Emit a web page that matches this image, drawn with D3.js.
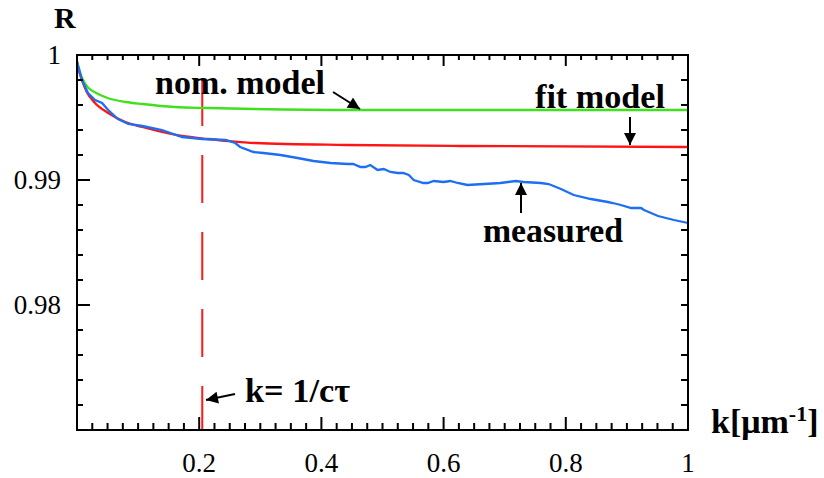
<!DOCTYPE html>
<html>
<head>
<meta charset="utf-8">
<script src="https://cdn.jsdelivr.net/npm/d3@7"></script>
<style>
  body { margin: 0; background: #fff; }
</style>
</head>
<body>
<svg class="graphic"></svg>
<script>
// nominal model (green)
var nomK = [0, 0.008, 0.018, 0.03, 0.05, 0.08, 0.107, 0.16, 0.215, 0.29, 0.46, 1.0];
var nomR = [0.9995, 0.9982, 0.9974, 0.9970, 0.99656, 0.99624, 0.99608, 0.99584, 0.99576, 0.99568, 0.9956, 0.9956];

// fit model (red)
var fitK = [0, 0.0016, 0.008, 0.016, 0.0295, 0.051, 0.079, 0.107, 0.139, 0.172, 0.215, 0.248, 0.292, 0.44, 0.628, 1.0];
var fitR = [0.99944, 0.99904, 0.998, 0.99704, 0.99616, 0.99536, 0.99464, 0.99424, 0.99384, 0.99352, 0.99328, 0.99312, 0.99296, 0.9928, 0.99272, 0.99264];

// measured (blue)
var measK = [0, 0.008, 0.018, 0.0295, 0.041, 0.051, 0.067, 0.084, 0.107, 0.139, 0.172, 0.205, 0.243, 0.259, 0.267,
    0.289, 0.305, 0.333, 0.361, 0.387, 0.415, 0.443, 0.452, 0.464, 0.472, 0.48, 0.492, 0.502, 0.513, 0.525,
    0.534, 0.543, 0.551, 0.567, 0.574, 0.584, 0.6, 0.611, 0.623, 0.639, 0.666, 0.693, 0.718, 0.731, 0.759,
    0.772, 0.792, 0.813, 0.841, 0.869, 0.877, 0.89, 0.907, 0.923, 0.928, 0.951, 0.977, 1.0];
var measR = [0.99944, 0.998, 0.99696, 0.9964, 0.99616, 0.9956, 0.99488, 0.99448, 0.99432, 0.994, 0.99344, 0.99328, 0.9932, 0.99296, 0.99264,
    0.99224, 0.99216, 0.992, 0.99176, 0.99152, 0.99136, 0.99128, 0.99128, 0.99104, 0.99104, 0.9912, 0.9908, 0.99088, 0.99064, 0.99056,
    0.99056, 0.9904, 0.99, 0.98976, 0.98976, 0.98992, 0.98984, 0.98992, 0.98976, 0.9896, 0.98968, 0.98976, 0.98992, 0.98984, 0.98976,
    0.98968, 0.98928, 0.9888, 0.98848, 0.98824, 0.98816, 0.988, 0.98776, 0.98776, 0.9876, 0.98712, 0.9868, 0.98656];

var cutoffK = 0.205; // k = 1/c tau

var xMajor = [0.2, 0.4, 0.6, 0.8, 1];
var xLabels = ["0.2", "0.4", "0.6", "0.8", "1"];
var yMajor = [1, 0.99, 0.98];
var yLabels = ["1", "0.99", "0.98"];

var serif = "'Liberation Serif', 'Times New Roman', serif";
var width = 824, height = 478;
var plotLeft = 77, plotRight = 688, plotTop = 55, plotBottom = 430;

var svg = d3.select(".graphic").attr("width", width).attr("height", height);

var x = d3.scaleLinear().domain([0, 1]).range([plotLeft, plotRight]);
var y = d3.scaleLinear().domain([0.97, 1]).range([plotBottom, plotTop]);

// arrow head
svg.append("defs").append("marker")
    .attr("id", "head")
    .attr("viewBox", "0 0 10 10")
    .attr("refX", 10).attr("refY", 5)
    .attr("markerWidth", 7).attr("markerHeight", 6)
    .attr("markerUnits", "strokeWidth")
    .attr("orient", "auto")
    .append("path")
    .attr("d", "M0,0 L10,5 L0,10 Z")
    .attr("fill", "#000");

// cutoff line
svg.append("line")
    .attr("x1", x(cutoffK)).attr("x2", x(cutoffK))
    .attr("y1", 78).attr("y2", plotBottom)
    .attr("stroke", "#ff1a1a")
    .attr("stroke-width", 2)
    .attr("stroke-dasharray", "48,29");

// curves
function curve(ks, rs, colour, shape) {
    var pts = ks.map(function(k, i) { return [k, rs[i]]; });
    svg.append("path")
        .attr("d", d3.line()
            .x(function(d) { return x(d[0]); })
            .y(function(d) { return y(d[1]); })
            .curve(shape)(pts))
        .attr("fill", "none")
        .attr("stroke", colour)
        .attr("stroke-width", 2.3);
}
curve(nomK, nomR, "#3fe01c", d3.curveMonotoneX);
curve(fitK, fitR, "#ff1414", d3.curveMonotoneX);
curve(measK, measR, "#1c6ef2", d3.curveLinear);

// axes
var frame = svg.append("g");
frame.append("rect")
    .attr("x", plotLeft).attr("y", plotTop)
    .attr("width", plotRight - plotLeft).attr("height", plotBottom - plotTop)
    .attr("fill", "none").attr("stroke", "#000").attr("stroke-width", 2);

var xTicks = d3.range(1, 40).map(function(i) { return i * 0.025; });
var yTicks = d3.range(1, 15).map(function(i) { return 0.97 + i * 0.002; });
function isMajor(v, list) { return list.some(function(m) { return Math.abs(m - v) < 1e-6; }); }

xTicks.forEach(function(v) {
    var major = isMajor(v, xMajor);
    frame.append("line").attr("x1", x(v)).attr("x2", x(v))
        .attr("y1", plotBottom).attr("y2", plotBottom - (major ? 13 : 7))
        .attr("stroke", "#000").attr("stroke-width", 2);
    frame.append("line").attr("x1", x(v)).attr("x2", x(v))
        .attr("y1", plotTop).attr("y2", plotTop + (major ? 11 : 5))
        .attr("stroke", "#000").attr("stroke-width", 2);
});

yTicks.forEach(function(v) {
    var len = isMajor(v, yMajor) ? 13 : 6;
    frame.append("line").attr("x1", plotLeft).attr("x2", plotLeft + len)
        .attr("y1", y(v)).attr("y2", y(v))
        .attr("stroke", "#000").attr("stroke-width", 2);
    frame.append("line").attr("x1", plotRight).attr("x2", plotRight - 7)
        .attr("y1", y(v)).attr("y2", y(v))
        .attr("stroke", "#000").attr("stroke-width", 2);
});

svg.selectAll(".xl").data(xMajor).enter().append("text")
    .attr("font-family", serif).attr("font-size", 27)
    .attr("x", function(d) { return x(d); })
    .attr("y", 472)
    .attr("text-anchor", "middle")
    .text(function(d, i) { return xLabels[i]; });

svg.selectAll(".yl").data(yMajor).enter().append("text")
    .attr("font-family", serif).attr("font-size", 27)
    .attr("x", 61)
    .attr("y", function(d) { return y(d) + 9; })
    .attr("text-anchor", "end")
    .text(function(d, i) { return yLabels[i]; });

// axis titles
svg.append("text").attr("x", 54).attr("y", 28)
    .attr("font-family", serif).attr("font-size", 30).attr("font-weight", "bold").text("R");

var kt = svg.append("text").attr("x", 711).attr("y", 433)
    .attr("font-family", serif).attr("font-size", 34).attr("font-weight", "bold");
kt.append("tspan").text("k[\u03bcm");
kt.append("tspan").attr("dy", -12).attr("font-size", 22).text("-1");
kt.append("tspan").attr("dy", 12).text("]");

// annotations
function note(tx, ty, len, label) {
    svg.append("text").attr("x", tx).attr("y", ty)
        .attr("font-family", serif).attr("font-size", 34).attr("font-weight", "bold")
        .attr("textLength", len).attr("lengthAdjust", "spacingAndGlyphs")
        .text(label);
}
note(155, 94, 170, "nom. model");
note(535, 108, 130, "fit model");
note(483, 242, 140, "measured");
note(245, 402, 105, "k= 1/c\u03c4");

function arrow(x1, y1, x2, y2) {
    svg.append("line")
        .attr("x1", x1).attr("y1", y1).attr("x2", x2).attr("y2", y2)
        .attr("stroke", "#000").attr("stroke-width", 2)
        .attr("marker-end", "url(#head)");
}
arrow(333, 92, 360, 109);
arrow(630, 117, 630, 145);
arrow(521, 213, 521, 183);
arrow(235, 394, 206, 400);
</script>
</body>
</html>
